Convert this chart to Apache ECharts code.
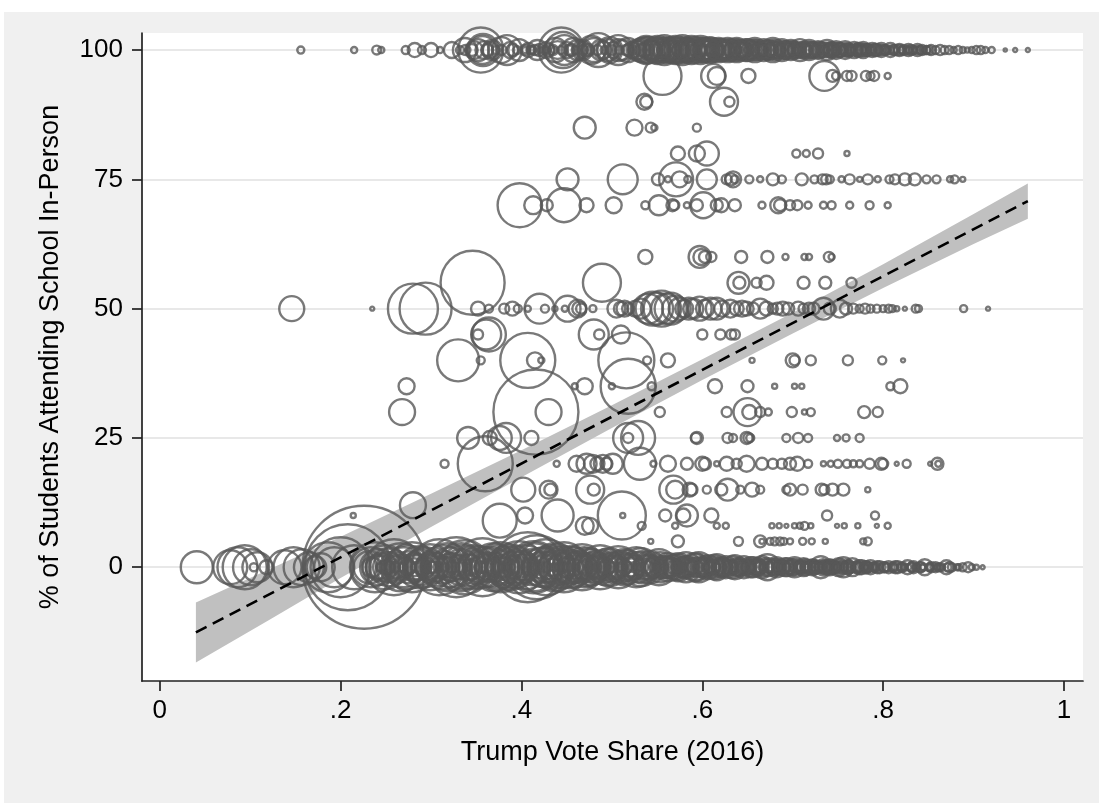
<!DOCTYPE html>
<html>
<head>
<meta charset="utf-8">
<title>In-person schooling and Trump vote share</title>
<script src="https://cdn.jsdelivr.net/npm/echarts@6/dist/echarts.min.js"></script>
<style>
  html, body { margin: 0; padding: 0; background: #fff; }
  #chart { width: 1099px; height: 803px; }
</style>
</head>
<body>
<div id="chart"></div>
<script>
// axis ticks
const xTicks = [0, 0.2, 0.4, 0.6, 0.8, 1];
const xTickLabels = ['0', '.2', '.4', '.6', '.8', '1'];
const yTicks = [0, 25, 50, 75, 100];
const yTickLabels = ['0', '25', '50', '75', '100'];

// districts fully remote (0% in person): [trump share, enrollment weight]
const remote = [
  [0.041, 64], [0.078, 72], [0.086, 100], [0.094, 121], [0.101, 81], [0.108, 56], [0.104, 4], [0.118, 12.3],
  [0.138, 72], [0.148, 100], [0.157, 81], [0.165, 56], [0.172, 30], [0.178, 49], [0.186, 156], [0.193, 100],
  [0.2, 225], [0.208, 462], [0.215, 121], [0.226, 946], [0.232, 64], [0.238, 156], [0.244, 36], [0.249, 121],
  [0.255, 20], [0.259, 196], [0.264, 49], [0.27, 100], [0.274, 16], [0.279, 156], [0.284, 36], [0.289, 81],
  [0.294, 25], [0.299, 132], [0.304, 49], [0.309, 196], [0.314, 64], [0.318, 144], [0.323, 30], [0.328, 225],
  [0.333, 81], [0.337, 182], [0.342, 42], [0.347, 121], [0.352, 56], [0.357, 210], [0.362, 36], [0.367, 100],
  [0.372, 49], [0.377, 156], [0.382, 25], [0.387, 132], [0.392, 64], [0.397, 169], [0.402, 42], [0.407, 306],
  [0.412, 81], [0.417, 256], [0.422, 49], [0.427, 196], [0.432, 100], [0.437, 144], [0.442, 36], [0.447, 156],
  [0.452, 64], [0.457, 100], [0.462, 30], [0.467, 132], [0.472, 49], [0.477, 81], [0.482, 25], [0.487, 121],
  [0.492, 42], [0.497, 90], [0.502, 36], [0.507, 110], [0.512, 49], [0.517, 72], [0.522, 20], [0.527, 100],
  [0.532, 90], [0.537, 36], [0.542, 64], [0.547, 25], [0.552, 81], [0.557, 30], [0.562, 49], [0.567, 20],
  [0.572, 42], [0.577, 25], [0.582, 56], [0.587, 16], [0.592, 49], [0.596, 56], [0.601, 20], [0.606, 36],
  [0.611, 16], [0.616, 42], [0.621, 20], [0.626, 30], [0.631, 12.3], [0.636, 36], [0.641, 16], [0.646, 30],
  [0.651, 12.3], [0.656, 25], [0.661, 16], [0.666, 30], [0.672, 42], [0.677, 12.3], [0.682, 25], [0.687, 16],
  [0.692, 20], [0.697, 12.3], [0.702, 25], [0.707, 9], [0.712, 20], [0.717, 12.3], [0.722, 16], [0.727, 9],
  [0.731, 30], [0.736, 12.3], [0.741, 16], [0.746, 9], [0.751, 20], [0.756, 25], [0.761, 12.3], [0.766, 20],
  [0.771, 9], [0.776, 12.3], [0.781, 9], [0.786, 12.3], [0.791, 6.3], [0.796, 9], [0.801, 6.3], [0.806, 9],
  [0.811, 6.3], [0.816, 9], [0.821, 4], [0.827, 12.3], [0.832, 6.3], [0.837, 4], [0.842, 6.3], [0.846, 16],
  [0.852, 4], [0.858, 6.3], [0.864, 4], [0.87, 12.3], [0.876, 4], [0.882, 2.3], [0.888, 4], [0.894, 6.3],
  [0.898, 2.3], [0.903, 1.6], [0.91, 1],
  [0.2345, 25], [0.2415, 81], [0.2465, 9], [0.2525, 56], [0.2615, 30], [0.2665, 144], [0.2765, 64], [0.2815, 20],
  [0.2865, 110], [0.2965, 42], [0.3015, 9], [0.3065, 90], [0.3165, 25], [0.3215, 100], [0.3305, 36], [0.3355, 121],
  [0.3445, 16], [0.3495, 72], [0.3545, 9], [0.3595, 100], [0.3645, 20], [0.3695, 144], [0.3745, 30], [0.3795, 64],
  [0.3845, 110], [0.3895, 12.3], [0.3945, 81], [0.3995, 25], [0.4045, 121], [0.4095, 16], [0.4145, 144], [0.4195, 30],
  [0.4245, 100], [0.4295, 56], [0.4345, 20], [0.4395, 81], [0.4445, 110], [0.4495, 25], [0.4545, 72], [0.4595, 16],
  [0.4645, 64], [0.4695, 100], [0.4745, 20], [0.4795, 56], [0.4845, 36], [0.4895, 64], [0.4945, 16], [0.4995, 56],
  [0.5045, 25], [0.5095, 64], [0.5145, 12.3], [0.5195, 49], [0.5245, 30], [0.5295, 56], [0.5345, 20], [0.5395, 42],
  [0.5445, 16], [0.5495, 36], [0.5545, 12.3], [0.5595, 30], [0.5645, 20], [0.5695, 36], [0.5745, 12.3], [0.5795, 25],
  [0.5845, 30], [0.5895, 9], [0.5945, 25], [0.5995, 12.3], [0.6035, 30], [0.6085, 9], [0.6135, 25], [0.6185, 12.3],
  [0.6235, 20], [0.6285, 16], [0.6335, 9], [0.6385, 20], [0.6435, 12.3], [0.6485, 16], [0.6535, 9], [0.6585, 16],
  [0.6635, 6.3], [0.6685, 20], [0.6745, 9], [0.6795, 16], [0.6845, 6.3], [0.6895, 12.3], [0.6945, 9], [0.6995, 16],
  [0.7045, 6.3], [0.7095, 12.3], [0.7145, 6.3], [0.7195, 9], [0.7245, 12.3], [0.7295, 6.3], [0.7345, 9], [0.7395, 6.3],
  [0.7445, 12.3], [0.7485, 6.3], [0.7535, 9], [0.7585, 6.3], [0.7635, 9], [0.7685, 4], [0.7735, 6.3], [0.7785, 4],
  [0.7835, 6.3], [0.7885, 4],
  [0.2412, 36], [0.2512, 16], [0.2612, 64], [0.2712, 25], [0.2812, 49], [0.2912, 16], [0.3012, 64], [0.3112, 30],
  [0.3212, 49], [0.3312, 16], [0.3412, 90], [0.3512, 25], [0.3612, 56], [0.3712, 20], [0.3812, 81], [0.3912, 30],
  [0.4012, 64], [0.4112, 25], [0.4212, 90], [0.4312, 36], [0.4412, 64], [0.4512, 25], [0.4612, 56], [0.4712, 36],
  [0.4812, 64], [0.4912, 25], [0.5012, 49], [0.5112, 20], [0.5212, 42], [0.5312, 16], [0.5412, 36], [0.5512, 20],
  [0.5612, 30], [0.5712, 16], [0.5812, 30], [0.5912, 20], [0.6012, 25], [0.6112, 12.3], [0.6212, 25], [0.6312, 16],
  [0.6412, 20], [0.6512, 12.3], [0.6612, 20], [0.6712, 12.3], [0.6812, 16], [0.6912, 9], [0.7012, 16], [0.7112, 9],
  [0.7212, 12.3], [0.7312, 9], [0.7412, 12.3], [0.7512, 6.3], [0.7612, 9], [0.7712, 6.3], [0.7812, 9], [0.7912, 4],
  [0.8012, 6.3], [0.8112, 4], [0.8212, 6.3], [0.8312, 4], [0.8412, 6.3], [0.8512, 4], [0.8612, 4], [0.8712, 4],
  [0.2335, 100], [0.2435, 49], [0.2535, 90], [0.2635, 36], [0.2735, 121], [0.2835, 42], [0.2935, 100], [0.3035, 36],
  [0.3135, 121], [0.3235, 49], [0.3335, 144], [0.3435, 36], [0.3535, 110], [0.3635, 49], [0.3735, 121], [0.3835, 42],
  [0.3935, 110], [0.4035, 49], [0.4135, 169], [0.4235, 64], [0.4335, 121], [0.4435, 49], [0.4535, 110], [0.4635, 42],
  [0.4735, 90], [0.4835, 36], [0.4935, 81], [0.5035, 30], [0.5135, 81], [0.5235, 30], [0.5335, 64], [0.5435, 25],
  [0.5535, 56], [0.5635, 25], [0.5735, 49], [0.5835, 20], [0.5935, 42], [0.6035, 16], [0.6135, 36], [0.6235, 16],
  [0.6335, 30], [0.6435, 12.3], [0.6535, 25], [0.6635, 12.3], [0.6735, 20], [0.6835, 9], [0.6935, 20], [0.7035, 9],
  [0.7135, 16], [0.7235, 6.3], [0.7335, 16], [0.7435, 6.3], [0.7535, 12.3], [0.7635, 4], [0.7735, 12.3], [0.7835, 4],
  [0.7935, 9], [0.8035, 4], [0.8135, 9], [0.8235, 2.3], [0.8335, 9], [0.8435, 2.3], [0.8535, 6.3], [0.8635, 2.3],
  [0.8735, 6.3], [0.8835, 2.3],
  [0.244, 4], [0.252, 9], [0.26, 6.3], [0.268, 4], [0.276, 9], [0.284, 6.3], [0.292, 4], [0.3, 9],
  [0.308, 6.3], [0.316, 4], [0.324, 9], [0.332, 6.3], [0.34, 4], [0.348, 9], [0.356, 6.3], [0.364, 4],
  [0.372, 9], [0.38, 6.3], [0.388, 4], [0.396, 9], [0.404, 6.3], [0.412, 4], [0.42, 9], [0.428, 6.3],
  [0.436, 4], [0.444, 9], [0.452, 6.3], [0.46, 4], [0.468, 9], [0.476, 6.3], [0.484, 4], [0.492, 9],
  [0.5, 6.3], [0.508, 4], [0.516, 9], [0.524, 6.3], [0.532, 4], [0.54, 9], [0.548, 6.3], [0.556, 4],
  [0.564, 9], [0.572, 6.3], [0.58, 4], [0.588, 9], [0.596, 6.3], [0.604, 4], [0.612, 9], [0.62, 6.3],
  [0.628, 4], [0.636, 9], [0.644, 6.3], [0.652, 4], [0.66, 9], [0.668, 6.3], [0.676, 4], [0.684, 9],
  [0.692, 6.3], [0.7, 4], [0.708, 6.3], [0.716, 4], [0.724, 6.3], [0.732, 4], [0.74, 6.3], [0.748, 4],
  [0.756, 6.3], [0.764, 4], [0.772, 4], [0.78, 2.3], [0.788, 4], [0.796, 2.3], [0.804, 4], [0.812, 2.3],
  [0.82, 4], [0.828, 2.3], [0.836, 2.3], [0.844, 2.3], [0.852, 2.3], [0.86, 2.3]
];

// districts fully in person (100%): [trump share, enrollment weight]
const inPerson = [
  [0.156, 3.1], [0.215, 2.3], [0.24, 5], [0.245, 2.3], [0.272, 4], [0.282, 12.3], [0.29, 4], [0.3, 12.3],
  [0.31, 2.3], [0.323, 16], [0.332, 4], [0.338, 6.3], [0.345, 9], [0.352, 30], [0.355, 127], [0.357, 49],
  [0.359, 20], [0.362, 9], [0.366, 16], [0.372, 4], [0.378, 6.3], [0.384, 56], [0.39, 9], [0.395, 4],
  [0.404, 6.3], [0.41, 4], [0.415, 6.3], [0.42, 9], [0.425, 4], [0.43, 9], [0.435, 6.3], [0.44, 20],
  [0.444, 127], [0.446, 81], [0.45, 16], [0.455, 9], [0.462, 25], [0.468, 16], [0.474, 9], [0.48, 36],
  [0.485, 72], [0.49, 20], [0.496, 30], [0.502, 16], [0.507, 56], [0.512, 25], [0.518, 9], [0.522, 16],
  [0.528, 20], [0.533, 36], [0.538, 49], [0.543, 25], [0.548, 42], [0.553, 30], [0.558, 56], [0.563, 36],
  [0.568, 42], [0.573, 20], [0.578, 56], [0.583, 36], [0.588, 49], [0.593, 25], [0.598, 49], [0.603, 36],
  [0.608, 42], [0.613, 20], [0.618, 36], [0.623, 30], [0.628, 36], [0.633, 16], [0.638, 36], [0.643, 25],
  [0.648, 30], [0.653, 20], [0.658, 36], [0.663, 16], [0.668, 30], [0.673, 25], [0.678, 36], [0.683, 16],
  [0.688, 30], [0.693, 20], [0.698, 25], [0.703, 16], [0.708, 30], [0.713, 12.3], [0.718, 25], [0.723, 16],
  [0.728, 20], [0.733, 12.3], [0.738, 25], [0.743, 16], [0.748, 20], [0.753, 12.3], [0.758, 20], [0.763, 9],
  [0.768, 16], [0.773, 12.3], [0.778, 16], [0.783, 9], [0.788, 12.3], [0.793, 9], [0.798, 12.3], [0.803, 6.3],
  [0.808, 12.3], [0.813, 6.3], [0.818, 9], [0.823, 6.3], [0.828, 9], [0.833, 4], [0.838, 9], [0.843, 6.3],
  [0.848, 4], [0.853, 6.3], [0.858, 4], [0.863, 6.3], [0.868, 4], [0.873, 4], [0.878, 2.3], [0.883, 4],
  [0.888, 2.3], [0.893, 1.6], [0.898, 2.3], [0.903, 4], [0.908, 4], [0.913, 2.3], [0.92, 2.3], [0.935, 0.6],
  [0.946, 1], [0.96, 1],
  [0.5305, 30], [0.5355, 12.3], [0.5405, 42], [0.5455, 20], [0.5505, 49], [0.5555, 16], [0.5605, 42], [0.5655, 25],
  [0.5705, 49], [0.5755, 16], [0.5805, 36], [0.5855, 25], [0.5905, 42], [0.5955, 16], [0.6005, 36], [0.6055, 20],
  [0.6105, 36], [0.6155, 12.3], [0.6205, 30], [0.6255, 20], [0.6305, 30], [0.6355, 12.3], [0.6405, 25], [0.6455, 16],
  [0.6505, 30], [0.6555, 12.3], [0.6605, 25], [0.6655, 12.3], [0.6705, 20], [0.6755, 12.3], [0.6805, 25], [0.6855, 9],
  [0.6905, 20], [0.6955, 12.3], [0.7005, 20], [0.7055, 9], [0.7105, 16], [0.7155, 9], [0.7205, 16], [0.7255, 9],
  [0.7305, 16], [0.7355, 6.3], [0.7405, 12.3], [0.7455, 9], [0.7505, 12.3], [0.7555, 6.3], [0.7605, 12.3], [0.7655, 6.3],
  [0.7705, 9], [0.7755, 6.3], [0.7805, 9], [0.7855, 4],
  [0.5412, 25], [0.5512, 36], [0.5612, 25], [0.5712, 36], [0.5812, 25], [0.5912, 30], [0.6012, 25], [0.6112, 30],
  [0.6212, 20], [0.6312, 25], [0.6412, 20], [0.6512, 25], [0.6612, 16], [0.6712, 20], [0.6812, 16], [0.6912, 20],
  [0.7012, 12.3], [0.7112, 16], [0.7212, 12.3], [0.7312, 12.3], [0.7412, 9], [0.7512, 12.3], [0.7612, 9], [0.7712, 9],
  [0.7812, 6.3], [0.7912, 9], [0.8012, 6.3], [0.8112, 6.3], [0.8212, 4], [0.8312, 6.3], [0.8412, 4], [0.8512, 4],
  [0.3375, 36], [0.3475, 20], [0.3575, 64], [0.3675, 25], [0.3775, 42], [0.3875, 16], [0.3975, 30], [0.4075, 12.3],
  [0.4175, 25], [0.4275, 16], [0.4375, 36], [0.4475, 56], [0.4575, 36], [0.4675, 25], [0.4775, 49], [0.4875, 25],
  [0.4975, 42], [0.5075, 30], [0.5175, 36], [0.5275, 25], [0.5375, 42], [0.5475, 30], [0.5575, 36], [0.5675, 30],
  [0.5775, 42], [0.5875, 25], [0.5975, 36], [0.6075, 25], [0.6175, 30], [0.6275, 20], [0.6375, 30], [0.6475, 16],
  [0.6575, 25], [0.6675, 16], [0.6775, 20], [0.6875, 12.3], [0.6975, 16], [0.7075, 12.3], [0.7175, 16], [0.7275, 9],
  [0.7375, 12.3], [0.7475, 9], [0.7575, 9], [0.7675, 6.3], [0.7775, 9], [0.7875, 6.3], [0.7975, 6.3], [0.8075, 4],
  [0.8175, 6.3], [0.8275, 4], [0.8375, 4], [0.8475, 4],
  [0.404, 2.3], [0.412, 4], [0.42, 2.3], [0.428, 4], [0.436, 2.3], [0.444, 4], [0.452, 6.3], [0.46, 4],
  [0.468, 6.3], [0.476, 4], [0.484, 6.3], [0.492, 4], [0.5, 6.3], [0.508, 4], [0.516, 6.3], [0.524, 4],
  [0.532, 9], [0.54, 6.3], [0.548, 9], [0.556, 6.3], [0.564, 9], [0.572, 6.3], [0.58, 9], [0.588, 6.3],
  [0.596, 9], [0.604, 6.3], [0.612, 9], [0.62, 6.3], [0.628, 9], [0.636, 6.3], [0.644, 9], [0.652, 6.3],
  [0.66, 9], [0.668, 6.3], [0.676, 9], [0.684, 6.3], [0.692, 9], [0.7, 6.3], [0.708, 6.3], [0.716, 4],
  [0.724, 6.3], [0.732, 4], [0.74, 6.3], [0.748, 4], [0.756, 4], [0.764, 4], [0.772, 4], [0.78, 2.3],
  [0.788, 4], [0.796, 2.3], [0.804, 2.3], [0.812, 2.3], [0.82, 2.3], [0.828, 2.3], [0.836, 2.3], [0.844, 2.3]
];

// hybrid districts: [trump share, % in person, enrollment weight]
const partial = [
  [0.556, 95, 90], [0.612, 95, 36], [0.616, 95, 20], [0.651, 95, 12.3], [0.735, 95, 56], [0.744, 95, 9],
  [0.748, 95, 4], [0.76, 95, 6.3], [0.765, 95, 6.3], [0.781, 95, 6.3], [0.786, 95, 4], [0.79, 95, 6.3], [0.805, 95, 2.3],
  [0.536, 90, 16], [0.538, 90, 9], [0.624, 90, 49], [0.63, 90, 6.3],
  [0.47, 85, 30], [0.525, 85, 16], [0.543, 85, 6.3], [0.547, 85, 2.3], [0.594, 85, 4],
  [0.573, 80, 12.3], [0.594, 80, 16], [0.605, 80, 36], [0.704, 80, 4], [0.715, 80, 3.1], [0.728, 80, 6.3], [0.76, 80, 1.6],
  [0.451, 75, 30], [0.512, 75, 56], [0.551, 75, 9], [0.562, 75, 2.3], [0.571, 75, 72], [0.575, 75, 16], [0.584, 75, 3.1],
  [0.605, 75, 25], [0.627, 75, 6.3], [0.634, 75, 16], [0.632, 75, 9], [0.636, 75, 4], [0.652, 75, 4], [0.664, 75, 2.3],
  [0.678, 75, 9], [0.688, 75, 4], [0.71, 75, 9], [0.724, 75, 4], [0.733, 75, 6.3], [0.737, 75, 6.3], [0.741, 75, 4],
  [0.754, 75, 2.3], [0.763, 75, 6.3], [0.774, 75, 1.6], [0.783, 75, 6.3], [0.794, 75, 2.3], [0.807, 75, 4],
  [0.813, 75, 6.3], [0.824, 75, 9], [0.835, 75, 9], [0.848, 75, 4], [0.859, 75, 4], [0.874, 75, 2.3], [0.879, 75, 4],
  [0.888, 75, 1.6],
  [0.398, 70, 121], [0.413, 70, 20], [0.428, 70, 9], [0.447, 70, 72], [0.472, 70, 12.3], [0.502, 70, 16],
  [0.537, 70, 4], [0.552, 70, 25], [0.567, 70, 9], [0.569, 70, 6.3], [0.583, 70, 2.3], [0.594, 70, 9],
  [0.601, 70, 42], [0.616, 70, 9], [0.621, 70, 12.3], [0.636, 70, 9], [0.666, 70, 3.1], [0.684, 70, 16],
  [0.686, 70, 9], [0.697, 70, 6.3], [0.705, 70, 6.3], [0.717, 70, 3.1], [0.734, 70, 3.1], [0.743, 70, 4],
  [0.763, 70, 3.1], [0.785, 70, 4], [0.805, 70, 2.3],
  [0.537, 60, 12.3], [0.597, 60, 30], [0.599, 60, 16], [0.603, 60, 9], [0.61, 60, 6.3], [0.643, 60, 9],
  [0.672, 60, 9], [0.692, 60, 2.3], [0.713, 60, 2.3], [0.718, 60, 2.3], [0.74, 60, 6.3], [0.743, 60, 2.3],
  [0.346, 55, 256], [0.489, 55, 90], [0.64, 55, 30], [0.641, 55, 9], [0.66, 55, 6.3], [0.671, 55, 12.3],
  [0.712, 55, 9], [0.736, 55, 9], [0.765, 55, 6.3],
  [0.146, 50, 39], [0.235, 50, 1], [0.28, 50, 156], [0.294, 50, 169], [0.352, 50, 12.3], [0.364, 50, 4],
  [0.381, 50, 6.3], [0.39, 50, 12.3], [0.396, 50, 4], [0.407, 50, 2.3], [0.42, 50, 56], [0.426, 50, 4],
  [0.437, 50, 1.6], [0.448, 50, 2.3], [0.451, 50, 42], [0.462, 50, 20], [0.464, 50, 12.3], [0.466, 50, 6.3],
  [0.479, 50, 3.1], [0.505, 50, 20], [0.51, 50, 12.3], [0.514, 50, 16], [0.518, 50, 9], [0.526, 50, 16],
  [0.532, 50, 25], [0.54, 50, 56], [0.545, 50, 72], [0.55, 50, 64], [0.555, 50, 81], [0.56, 50, 56],
  [0.565, 50, 64], [0.57, 50, 42], [0.575, 50, 30], [0.58, 50, 20], [0.585, 50, 30], [0.59, 50, 25],
  [0.597, 50, 36], [0.603, 50, 20], [0.609, 50, 30], [0.616, 50, 30], [0.622, 50, 16], [0.631, 50, 20],
  [0.638, 50, 12.3], [0.644, 50, 16], [0.649, 50, 12.3], [0.656, 50, 9], [0.664, 50, 25], [0.671, 50, 12.3],
  [0.678, 50, 6.3], [0.683, 50, 9], [0.689, 50, 12.3], [0.695, 50, 9], [0.706, 50, 12.3], [0.712, 50, 6.3],
  [0.718, 50, 9], [0.723, 50, 9], [0.734, 50, 30], [0.741, 50, 9], [0.752, 50, 20], [0.759, 50, 9],
  [0.767, 50, 6.3], [0.774, 50, 4], [0.78, 50, 6.3], [0.786, 50, 4], [0.793, 50, 4], [0.8, 50, 3.1],
  [0.806, 50, 4], [0.81, 50, 3.1], [0.815, 50, 1.6], [0.824, 50, 1], [0.836, 50, 4], [0.839, 50, 3.1],
  [0.889, 50, 3.1], [0.916, 50, 1],
  [0.352, 45, 6.3], [0.361, 45, 56], [0.364, 45, 72], [0.48, 45, 56], [0.486, 45, 6.3], [0.51, 45, 20],
  [0.6, 45, 6.3], [0.62, 45, 6.3], [0.632, 45, 6.3], [0.636, 45, 6.3],
  [0.33, 40, 110], [0.355, 40, 4], [0.407, 40, 189], [0.415, 40, 16], [0.422, 40, 2.3], [0.516, 40, 196],
  [0.539, 40, 4], [0.562, 40, 12.3], [0.655, 40, 1.6], [0.7, 40, 12.3], [0.702, 40, 6.3], [0.72, 40, 6.3],
  [0.761, 40, 6.3], [0.799, 40, 4], [0.822, 40, 1],
  [0.273, 35, 16], [0.459, 35, 2.3], [0.47, 35, 16], [0.5, 35, 2.3], [0.518, 35, 189], [0.544, 35, 4],
  [0.614, 35, 12.3], [0.65, 35, 9], [0.68, 35, 1.6], [0.702, 35, 1.6], [0.71, 35, 1.6], [0.808, 35, 4],
  [0.819, 35, 12.3],
  [0.268, 30, 42], [0.416, 30, 452], [0.43, 30, 42], [0.553, 30, 6.3], [0.627, 30, 6.3], [0.65, 30, 49],
  [0.652, 30, 12.3], [0.664, 30, 6.3], [0.673, 30, 3.1], [0.699, 30, 6.3], [0.713, 30, 1.6], [0.72, 30, 4],
  [0.779, 30, 9], [0.794, 30, 6.3],
  [0.341, 25, 30], [0.365, 25, 12.3], [0.376, 25, 36], [0.383, 25, 56], [0.411, 25, 12.3], [0.518, 25, 56],
  [0.518, 25, 6.3], [0.529, 25, 72], [0.593, 25, 6.3], [0.594, 25, 9], [0.628, 25, 6.3], [0.634, 25, 4],
  [0.649, 25, 9], [0.651, 25, 6.3], [0.653, 25, 4], [0.693, 25, 4], [0.706, 25, 6.3], [0.717, 25, 4],
  [0.749, 25, 2.3], [0.759, 25, 3.1], [0.774, 25, 4],
  [0.315, 20, 4], [0.36, 20, 189], [0.439, 20, 2.3], [0.461, 20, 16], [0.472, 20, 25], [0.479, 20, 20],
  [0.484, 20, 12.3], [0.49, 20, 20], [0.494, 20, 9], [0.501, 20, 25], [0.531, 20, 64], [0.546, 20, 2.3],
  [0.562, 20, 16], [0.583, 20, 9], [0.6, 20, 12.3], [0.603, 20, 9], [0.616, 20, 1.6], [0.627, 20, 12.3],
  [0.638, 20, 6.3], [0.649, 20, 16], [0.666, 20, 9], [0.678, 20, 6.3], [0.688, 20, 6.3], [0.697, 20, 9],
  [0.705, 20, 12.3], [0.717, 20, 4], [0.734, 20, 1.6], [0.742, 20, 2.3], [0.75, 20, 4], [0.76, 20, 4],
  [0.767, 20, 3.1], [0.774, 20, 3.1], [0.785, 20, 6.3], [0.798, 20, 9], [0.8, 20, 6.3], [0.815, 20, 1],
  [0.826, 20, 4], [0.852, 20, 1], [0.86, 20, 9], [0.861, 20, 2.3],
  [0.402, 15, 36], [0.43, 15, 20], [0.432, 15, 9], [0.476, 15, 49], [0.48, 15, 9], [0.568, 15, 49],
  [0.57, 15, 20], [0.586, 15, 12.3], [0.588, 15, 9], [0.605, 15, 4], [0.621, 15, 9], [0.628, 15, 30],
  [0.642, 15, 4], [0.655, 15, 12.3], [0.664, 15, 4], [0.693, 15, 4], [0.697, 15, 9], [0.711, 15, 6.3],
  [0.732, 15, 9], [0.735, 15, 6.3], [0.744, 15, 9], [0.756, 15, 9], [0.783, 15, 1.6],
  [0.28, 12, 42], [0.214, 10, 1.6], [0.376, 9, 72], [0.404, 10, 16], [0.44, 10, 64], [0.511, 10, 144],
  [0.512, 10, 1.6], [0.559, 10, 9], [0.579, 10, 12.3], [0.583, 10, 30], [0.61, 10, 12.3], [0.738, 10, 6.3],
  [0.791, 10, 4],
  [0.47, 8, 20], [0.476, 8, 16], [0.533, 8, 4], [0.57, 8, 2.3], [0.616, 8, 2.3], [0.626, 8, 2.3],
  [0.677, 8, 1.6], [0.685, 8, 1.6], [0.693, 8, 1], [0.702, 8, 1.6], [0.708, 8, 2.3], [0.713, 8, 4],
  [0.72, 8, 1.6], [0.749, 8, 1], [0.757, 8, 1.6], [0.772, 8, 1.6], [0.793, 8, 1], [0.805, 8, 2.3],
  [0.543, 5, 1.6], [0.573, 5, 9], [0.64, 5, 5], [0.664, 5, 9], [0.666, 5, 1.6], [0.675, 5, 3.1],
  [0.68, 5, 4], [0.686, 5, 4], [0.69, 5, 3.1], [0.697, 5, 2.3], [0.711, 5, 3.1], [0.721, 5, 2.3],
  [0.736, 5, 1.6], [0.778, 5, 2.3], [0.783, 5, 4]
];

// linear fit and its 95% confidence band
const fitX = [0.04, 0.96];
const fitY = [-12.6, 70.8];
const ciX = [0.04, 0.12, 0.2, 0.3, 0.4, 0.5, 0.6, 0.7, 0.8, 0.9, 0.96];
const ciUpper = [-6.8, -0.5, 5.9, 14.2, 22.6, 31.3, 40.2, 49.2, 58.6, 68.3, 74.2];
const ciLower = [-18.4, -10.3, -2.1, 7.8, 17.4, 26.9, 36.2, 45.2, 54.0, 62.5, 67.4];

const points = []
  .concat(remote.map(d => [d[0], 0, d[1]]))
  .concat(inPerson.map(d => [d[0], 100, d[1]]))
  .concat(partial);

const font = "'Liberation Sans', Arial, Helvetica, sans-serif";
const ink = '#000';
const axisLine = { color: '#222', width: 1.7 };

const chart = echarts.init(document.getElementById('chart'));
chart.setOption({
  animation: false,
  backgroundColor: '#f0f0f0',
  textStyle: { fontFamily: font },
  graphic: [
    { type: 'rect', shape: { x: 0, y: 0, width: 1099, height: 12 }, style: { fill: '#fff' }, silent: true },
    { type: 'rect', shape: { x: 0, y: 0, width: 4, height: 803 }, style: { fill: '#fff' }, silent: true }
  ],
  grid: {
    left: 142, top: 33, width: 941, height: 648,
    show: true, backgroundColor: '#fff', borderWidth: 0
  },
  xAxis: {
    type: 'value',
    min: -0.0196, max: 1.021,
    name: 'Trump Vote Share (2016)',
    nameLocation: 'middle',
    nameGap: 58,
    nameTextStyle: { fontSize: 27, color: ink, fontFamily: font },
    axisLine: { show: true, onZero: false, lineStyle: axisLine },
    axisTick: { show: true, customValues: xTicks, length: 10, lineStyle: axisLine },
    axisLabel: {
      customValues: xTicks, margin: 17, fontSize: 26, color: ink, fontFamily: font,
      formatter: v => xTickLabels[xTicks.indexOf(Math.round(v * 10) / 10)]
    },
    splitLine: { show: false }
  },
  yAxis: {
    type: 'value',
    min: -22, max: 103.3,
    name: '% of Students Attending School In-Person',
    nameLocation: 'middle',
    nameRotate: 90,
    nameGap: 78,
    nameTextStyle: { fontSize: 27, color: ink, fontFamily: font },
    axisLine: { show: true, onZero: false, lineStyle: axisLine },
    axisTick: { show: true, customValues: yTicks, length: 10, lineStyle: axisLine },
    axisLabel: {
      customValues: yTicks, margin: 19, fontSize: 26, color: ink, fontFamily: font,
      formatter: v => yTickLabels[yTicks.indexOf(v)]
    },
    splitLine: { show: true, lineStyle: { color: '#e8e8e8', width: 2 } }
  },
  series: [
    {
      type: 'scatter',
      data: points,
      symbol: 'circle',
      symbolSize: v => 4 * Math.sqrt(v[2]),
      clip: false,
      large: false,
      progressive: 0,
      itemStyle: { color: 'rgba(0,0,0,0)', borderColor: '#585858', borderWidth: 2.4 },
      emphasis: { disabled: true },
      silent: true
    },
    {
      type: 'custom',
      data: [[0.5, 30]],
      silent: true,
      renderItem: (params, api) => {
        const pts = [];
        ciX.forEach((x, i) => pts.push(api.coord([x, ciUpper[i]])));
        for (let i = ciX.length - 1; i >= 0; i--) pts.push(api.coord([ciX[i], ciLower[i]]));
        return { type: 'polygon', shape: { points: pts }, style: { fill: '#c0c0c0' } };
      }
    },
    {
      type: 'line',
      data: fitX.map((x, i) => [x, fitY[i]]),
      showSymbol: false,
      silent: true,
      lineStyle: { color: '#000', width: 2.6, type: [12, 7] }
    }
  ]
});
</script>
</body>
</html>
